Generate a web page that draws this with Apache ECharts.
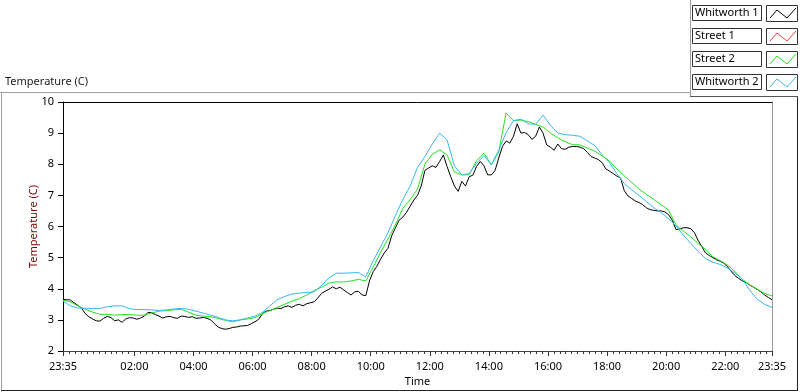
<!DOCTYPE html>
<html>
<head>
<meta charset="utf-8">
<script src="https://cdn.jsdelivr.net/npm/echarts@6/dist/echarts.min.js"></script>
<style>
  html, body { margin: 0; padding: 0; background: #fff; }
  #chart { width: 800px; height: 392px; }
</style>
</head>
<body>
<div id="chart"></div>
<script>
// time axis is minutes from midnight; log starts 23:35 (= -25)
const START_MIN = -25;
const STEP_W1 = 7.5;   // Whitworth 1 read at a finer step (noisy trace)
const STEP_MIN = 15;

const seriesNames = ['Whitworth 1', 'Street 1', 'Street 2', 'Whitworth 2'];
const seriesColors = ['#000000', '#f03c3c', '#1ee61e', '#3cb6f0'];

const whitworth1 = [
    3.66, 3.65, 3.64, 3.55, 3.47, 3.38, 3.20, 3.10, 3.03, 2.97, 2.96, 3.05,
    3.11, 3.07, 2.97, 3.00, 2.92, 3.03, 3.07, 3.06, 3.02, 3.06, 3.12, 3.24,
    3.23, 3.17, 3.12, 3.06, 3.10, 3.11, 3.07, 3.05, 3.12, 3.11, 3.08, 3.10,
    3.05, 3.06, 3.08, 3.05, 3.00, 2.88, 2.77, 2.72, 2.70, 2.72, 2.76, 2.77,
    2.80, 2.81, 2.82, 2.88, 2.94, 3.02, 3.20, 3.28, 3.30, 3.34, 3.38, 3.36,
    3.42, 3.45, 3.40, 3.47, 3.50, 3.45, 3.52, 3.55, 3.58, 3.70, 3.85, 3.92,
    3.98, 4.06, 4.00, 4.05, 3.96, 3.88, 3.80, 3.90, 3.92, 3.80, 3.78, 4.25,
    4.55, 4.72, 4.95, 5.15, 5.30, 5.70, 5.95, 6.20, 6.30, 6.45, 6.65, 6.85,
    7.00, 7.30, 7.80, 7.88, 7.95, 7.90, 8.09, 8.30, 7.93, 7.60, 7.30, 7.13,
    7.45, 7.30, 7.60, 7.65, 7.93, 8.09, 7.95, 7.66, 7.66, 7.80, 8.20, 8.57,
    8.75, 8.68, 8.90, 9.30, 9.00, 9.02, 8.95, 8.80, 8.90, 9.20, 9.00, 8.62,
    8.55, 8.45, 8.65, 8.50, 8.48, 8.55, 8.57, 8.57, 8.55, 8.50, 8.38, 8.25,
    8.20, 8.15, 8.05, 7.85, 7.78, 7.70, 7.62, 7.55, 7.15, 6.98, 6.90, 6.82,
    6.77, 6.70, 6.60, 6.54, 6.52, 6.50, 6.50, 6.47, 6.38, 6.20, 5.90, 5.92,
    5.96, 5.96, 5.93, 5.80, 5.55, 5.35, 5.15, 5.07, 5.00, 4.93, 4.88, 4.82,
    4.70, 4.55, 4.42, 4.33, 4.25, 4.20, 4.12, 4.05, 3.98, 3.90, 3.80, 3.72,
    3.65
];
const street1 = [];
const street2 = [
    3.63, 3.58, 3.45, 3.34, 3.25, 3.18, 3.18, 3.15, 3.17, 3.17, 3.15, 3.15,
    3.22, 3.28, 3.30, 3.32, 3.34, 3.25, 3.15, 3.12, 3.10, 3.05, 2.98, 2.94,
    3.00, 3.03, 3.07, 3.20, 3.30, 3.40, 3.50, 3.60, 3.68, 3.80, 3.94, 4.05,
    4.18, 4.22, 4.22, 4.25, 4.30, 4.25, 4.70, 5.17, 5.60, 6.05, 6.58, 6.86,
    7.20, 8.00, 8.32, 8.46, 8.30, 7.75, 7.66, 7.66, 8.12, 8.35, 7.98, 8.40,
    9.65, 9.40, 9.42, 9.37, 9.28, 9.20, 9.00, 8.85, 8.72, 8.63, 8.62, 8.52,
    8.42, 8.27, 8.10, 7.85, 7.63, 7.42, 7.20, 7.03, 6.87, 6.70, 6.52, 6.05,
    5.85, 5.67, 5.45, 5.27, 5.03, 4.90, 4.76, 4.55, 4.30, 4.12, 3.98, 3.85,
    3.77
];
const whitworth2 = [
    3.61, 3.45, 3.38, 3.37, 3.37, 3.37, 3.42, 3.45, 3.45, 3.36, 3.33, 3.33,
    3.32, 3.30, 3.32, 3.35, 3.37, 3.34, 3.28, 3.22, 3.15, 3.08, 3.00, 2.97,
    3.00, 3.06, 3.12, 3.24, 3.45, 3.65, 3.75, 3.83, 3.86, 3.88, 3.90, 4.10,
    4.35, 4.50, 4.50, 4.51, 4.52, 4.38, 4.90, 5.35, 5.80, 6.35, 6.86, 7.30,
    7.90, 8.25, 8.65, 9.00, 8.78, 7.95, 7.66, 7.70, 8.03, 8.28, 7.98, 8.45,
    9.02, 9.40, 9.45, 9.30, 9.28, 9.58, 9.25, 9.00, 8.95, 8.93, 8.90, 8.75,
    8.60, 8.30, 8.05, 7.70, 7.38, 7.18, 7.00, 6.80, 6.60, 6.45, 6.25, 6.02,
    5.72, 5.46, 5.20, 4.97, 4.85, 4.78, 4.66, 4.50, 4.30, 3.95, 3.66, 3.50,
    3.40
];

// x axis tick labels (minutes from midnight)
const xTickValues = [-25, 120, 240, 360, 480, 600, 720, 840, 960, 1080, 1200, 1320, 1415];
const xTickLabels = ['23:35', '02:00', '04:00', '06:00', '08:00', '10:00', '12:00',
    '14:00', '16:00', '18:00', '20:00', '22:00', '23:35'];

const FONT = '"Noto Sans", "Liberation Sans", sans-serif';

function toPairs(values, step) {
    return values.map(function(v, i) { return [START_MIN + i * step, v]; });
}

// minor ticks every 12 min, aligned to the even hours
let minorTicks = [];
for (let m = -24; m <= 1404; m += 12) {
    minorTicks.push(m);
}

function legendGraphics() {
    let items = [];
    seriesNames.forEach(function(name, k) {
        let top = 5 + k * 23;
        items.push({
            type: 'rect',
            shape: { x: 692.5, y: top + 0.5, width: 69, height: 15 },
            style: { fill: '#fff', stroke: '#333', lineWidth: 1 }
        });
        items.push({
            type: 'text',
            x: 695, y: top + 8,
            style: { text: name, font: '11px ' + FONT, fill: '#000', verticalAlign: 'middle' }
        });
        items.push({
            type: 'rect',
            shape: { x: 766.5, y: top + 0.5, width: 31, height: 16 },
            style: { fill: '#fff', stroke: '#333', lineWidth: 1 }
        });
        items.push({
            type: 'polyline',
            shape: { points: [[770, top + 13], [777, top + 5], [787, top + 13], [796, top + 3]] },
            style: { stroke: seriesColors[k], fill: null, lineWidth: 1 }
        });
    });
    return items;
}

function frameLine(x1, y1, x2, y2, color) {
    return {
        type: 'line',
        shape: { x1: x1, y1: y1, x2: x2, y2: y2 },
        style: { stroke: color, lineWidth: 1 },
        silent: true
    };
}

let myChart = echarts.init(document.getElementById('chart'), null, { renderer: 'canvas' });

let seriesData = [
    toPairs(whitworth1, STEP_W1),
    toPairs(street1, STEP_MIN),
    toPairs(street2, STEP_MIN),
    toPairs(whitworth2, STEP_MIN)
];

let option = {
    animation: false,
    backgroundColor: '#fff',
    textStyle: { fontFamily: FONT },
    title: {
        text: 'Temperature (C)',
        left: 5, top: 76, padding: 0,
        textStyle: { fontSize: 11, fontWeight: 'normal', color: '#1a1a1a', fontFamily: FONT }
    },
    grid: { left: 63, top: 102, width: 709, height: 250 },
    xAxis: [{
        type: 'value',
        min: -25, max: 1415,
        name: 'Time',
        nameLocation: 'middle',
        nameGap: 25,
        nameMoveOverlap: false,
        nameTextStyle: { fontSize: 11, color: '#000' },
        splitLine: { show: false },
        axisLine: { onZero: false, lineStyle: { color: '#444', width: 1 } },
        axisTick: { customValues: xTickValues, length: 5, lineStyle: { color: '#333' } },
        axisLabel: {
            customValues: xTickValues,
            margin: 10,
            fontSize: 11,
            color: '#000',
            formatter: function(v) { return xTickLabels[xTickValues.indexOf(v)]; }
        }
    }, {
        type: 'value',
        min: -25, max: 1415,
        position: 'bottom',
        splitLine: { show: false },
        axisLine: { show: false, onZero: false },
        axisLabel: { show: false },
        axisTick: { customValues: minorTicks, length: 3, lineStyle: { color: '#333' } }
    }, {
        type: 'value',
        min: -25, max: 1415,
        position: 'top',
        splitLine: { show: false },
        axisLine: { show: true, onZero: false, lineStyle: { color: '#000' } },
        axisLabel: { show: false },
        axisTick: { show: false }
    }],
    yAxis: [{
        type: 'value',
        min: 2, max: 10, interval: 1,
        name: 'Temperature (C)',
        nameLocation: 'middle',
        nameGap: 24,
        nameMoveOverlap: false,
        nameTextStyle: { fontSize: 11, color: '#800000' },
        splitLine: { show: false },
        axisLine: { show: true, onZero: false, lineStyle: { color: '#000' } },
        axisTick: { show: true, length: 5, lineStyle: { color: '#000' } },
        axisLabel: { margin: 9, fontSize: 11, color: '#000' }
    }, {
        type: 'value',
        min: 2, max: 10,
        position: 'right',
        splitLine: { show: false },
        axisLine: { show: true, onZero: false, lineStyle: { color: '#999' } },
        axisTick: { show: false },
        axisLabel: { show: false }
    }],
    series: seriesData.map(function(data, k) {
        return {
            name: seriesNames[k],
            type: 'line',
            xAxisIndex: 0,
            yAxisIndex: 0,
            data: data,
            showSymbol: false,
            symbol: 'none',
            lineStyle: { color: seriesColors[k], width: 1 },
            itemStyle: { color: seriesColors[k] },
            emphasis: { disabled: true }
        };
    }),
    graphic: [
        frameLine(0, 92.5, 690, 92.5, '#a0a0a0'),
        frameLine(1.5, 92, 1.5, 391, '#a0a0a0'),
        frameLine(1, 390.5, 798, 390.5, '#222'),
        frameLine(797.5, 96, 797.5, 391, '#222'),
        frameLine(690.5, 0, 690.5, 97, '#a0a0a0'),
        frameLine(690, 96.5, 798, 96.5, '#555')
    ].concat(legendGraphics())
};

if (option && typeof option === 'object') {
    myChart.setOption(option, true);
}
</script>
</body>
</html>
